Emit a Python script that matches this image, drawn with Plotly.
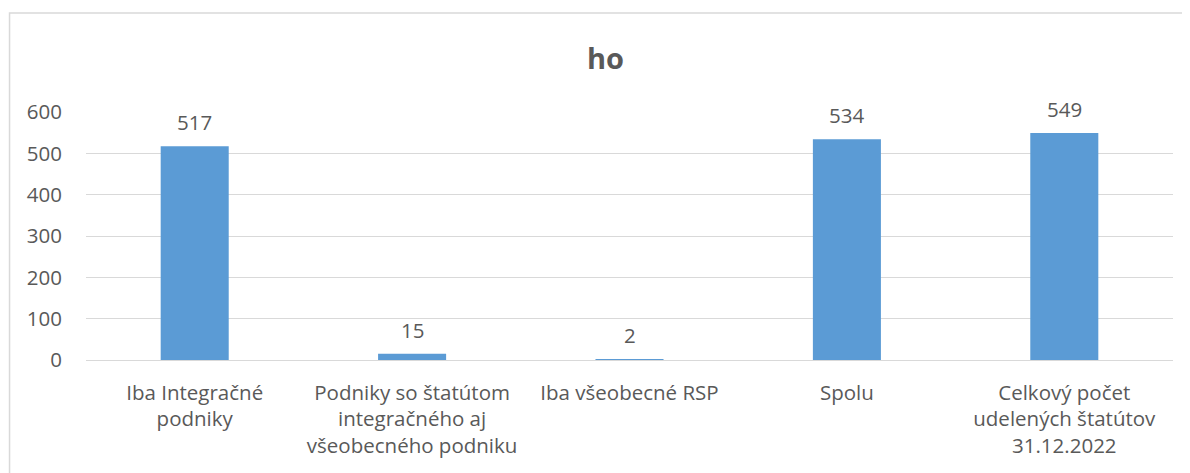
import plotly.graph_objects as go

categories = [
    "Iba Integračné<br>podniky",
    "Podniky so štatútom<br>integračného aj<br>všeobecného podniku",
    "Iba všeobecné RSP",
    "Spolu",
    "Celkový počet<br>udelených štatútov<br>31.12.2022",
]
values = [517, 15, 2, 534, 549]
y_ticks = [0, 100, 200, 300, 400, 500, 600]
title_text = "ho"

TEXT = "#595959"
FONT = "Open Sans"
FS = 20.5

# page body has an 8px default margin; compensate so pixels match the reference
OFF = 8
PL, PR, PT, PB = 85.5, 1173, 112, 360.3  # plot area in page pixels
W, H = 1190 - OFF, 473 - OFF

def px_x(x):
    return (x - PL) / (PR - PL)

def px_y(y):
    return (PB - y) / (PB - PT)

fig = go.Figure()
fig.add_trace(go.Bar(
    x=categories, y=values, width=0.313,
    marker=dict(color="#5B9BD5", line=dict(width=0)),
    hoverinfo="skip",
))

for c, v in zip(categories, values):
    fig.add_annotation(x=c, y=v, text=str(v), showarrow=False,
                       yshift=24, yanchor="middle",
                       font=dict(family=FONT, size=FS, color=TEXT))

fig.add_annotation(xref="paper", yref="paper", x=px_x(605), y=px_y(57),
                   text="<b>" + title_text + "</b>",
                   showarrow=False, xanchor="center", yanchor="middle",
                   font=dict(family=FONT, size=29, color=TEXT))

fig.add_shape(type="rect", xref="paper", yref="paper",
              x0=px_x(9), x1=px_x(1205), y0=px_y(490), y1=px_y(13),
              line=dict(color="#D9D9D9", width=1.5), layer="below")

fig.update_layout(
    width=W, height=H,
    margin=dict(l=PL - OFF, r=W - (PR - OFF), t=PT - OFF, b=H - (PB - OFF)),
    paper_bgcolor="white", plot_bgcolor="white",
    showlegend=False,
    font=dict(family=FONT, size=FS, color=TEXT),
    xaxis=dict(showgrid=False, showline=False, ticks="",
               tickfont=dict(family=FONT, size=FS, color=TEXT),
               ticklabelstandoff=18),
    yaxis=dict(range=[0, 600], tickvals=y_ticks, showgrid=True,
               gridcolor="#D9D9D9", gridwidth=1, zeroline=True,
               zerolinecolor="#D9D9D9", zerolinewidth=1, showline=False,
               ticks="", ticklabelstandoff=23,
               tickfont=dict(family=FONT, size=FS, color=TEXT)),
)

fig.write_html("out.html")
